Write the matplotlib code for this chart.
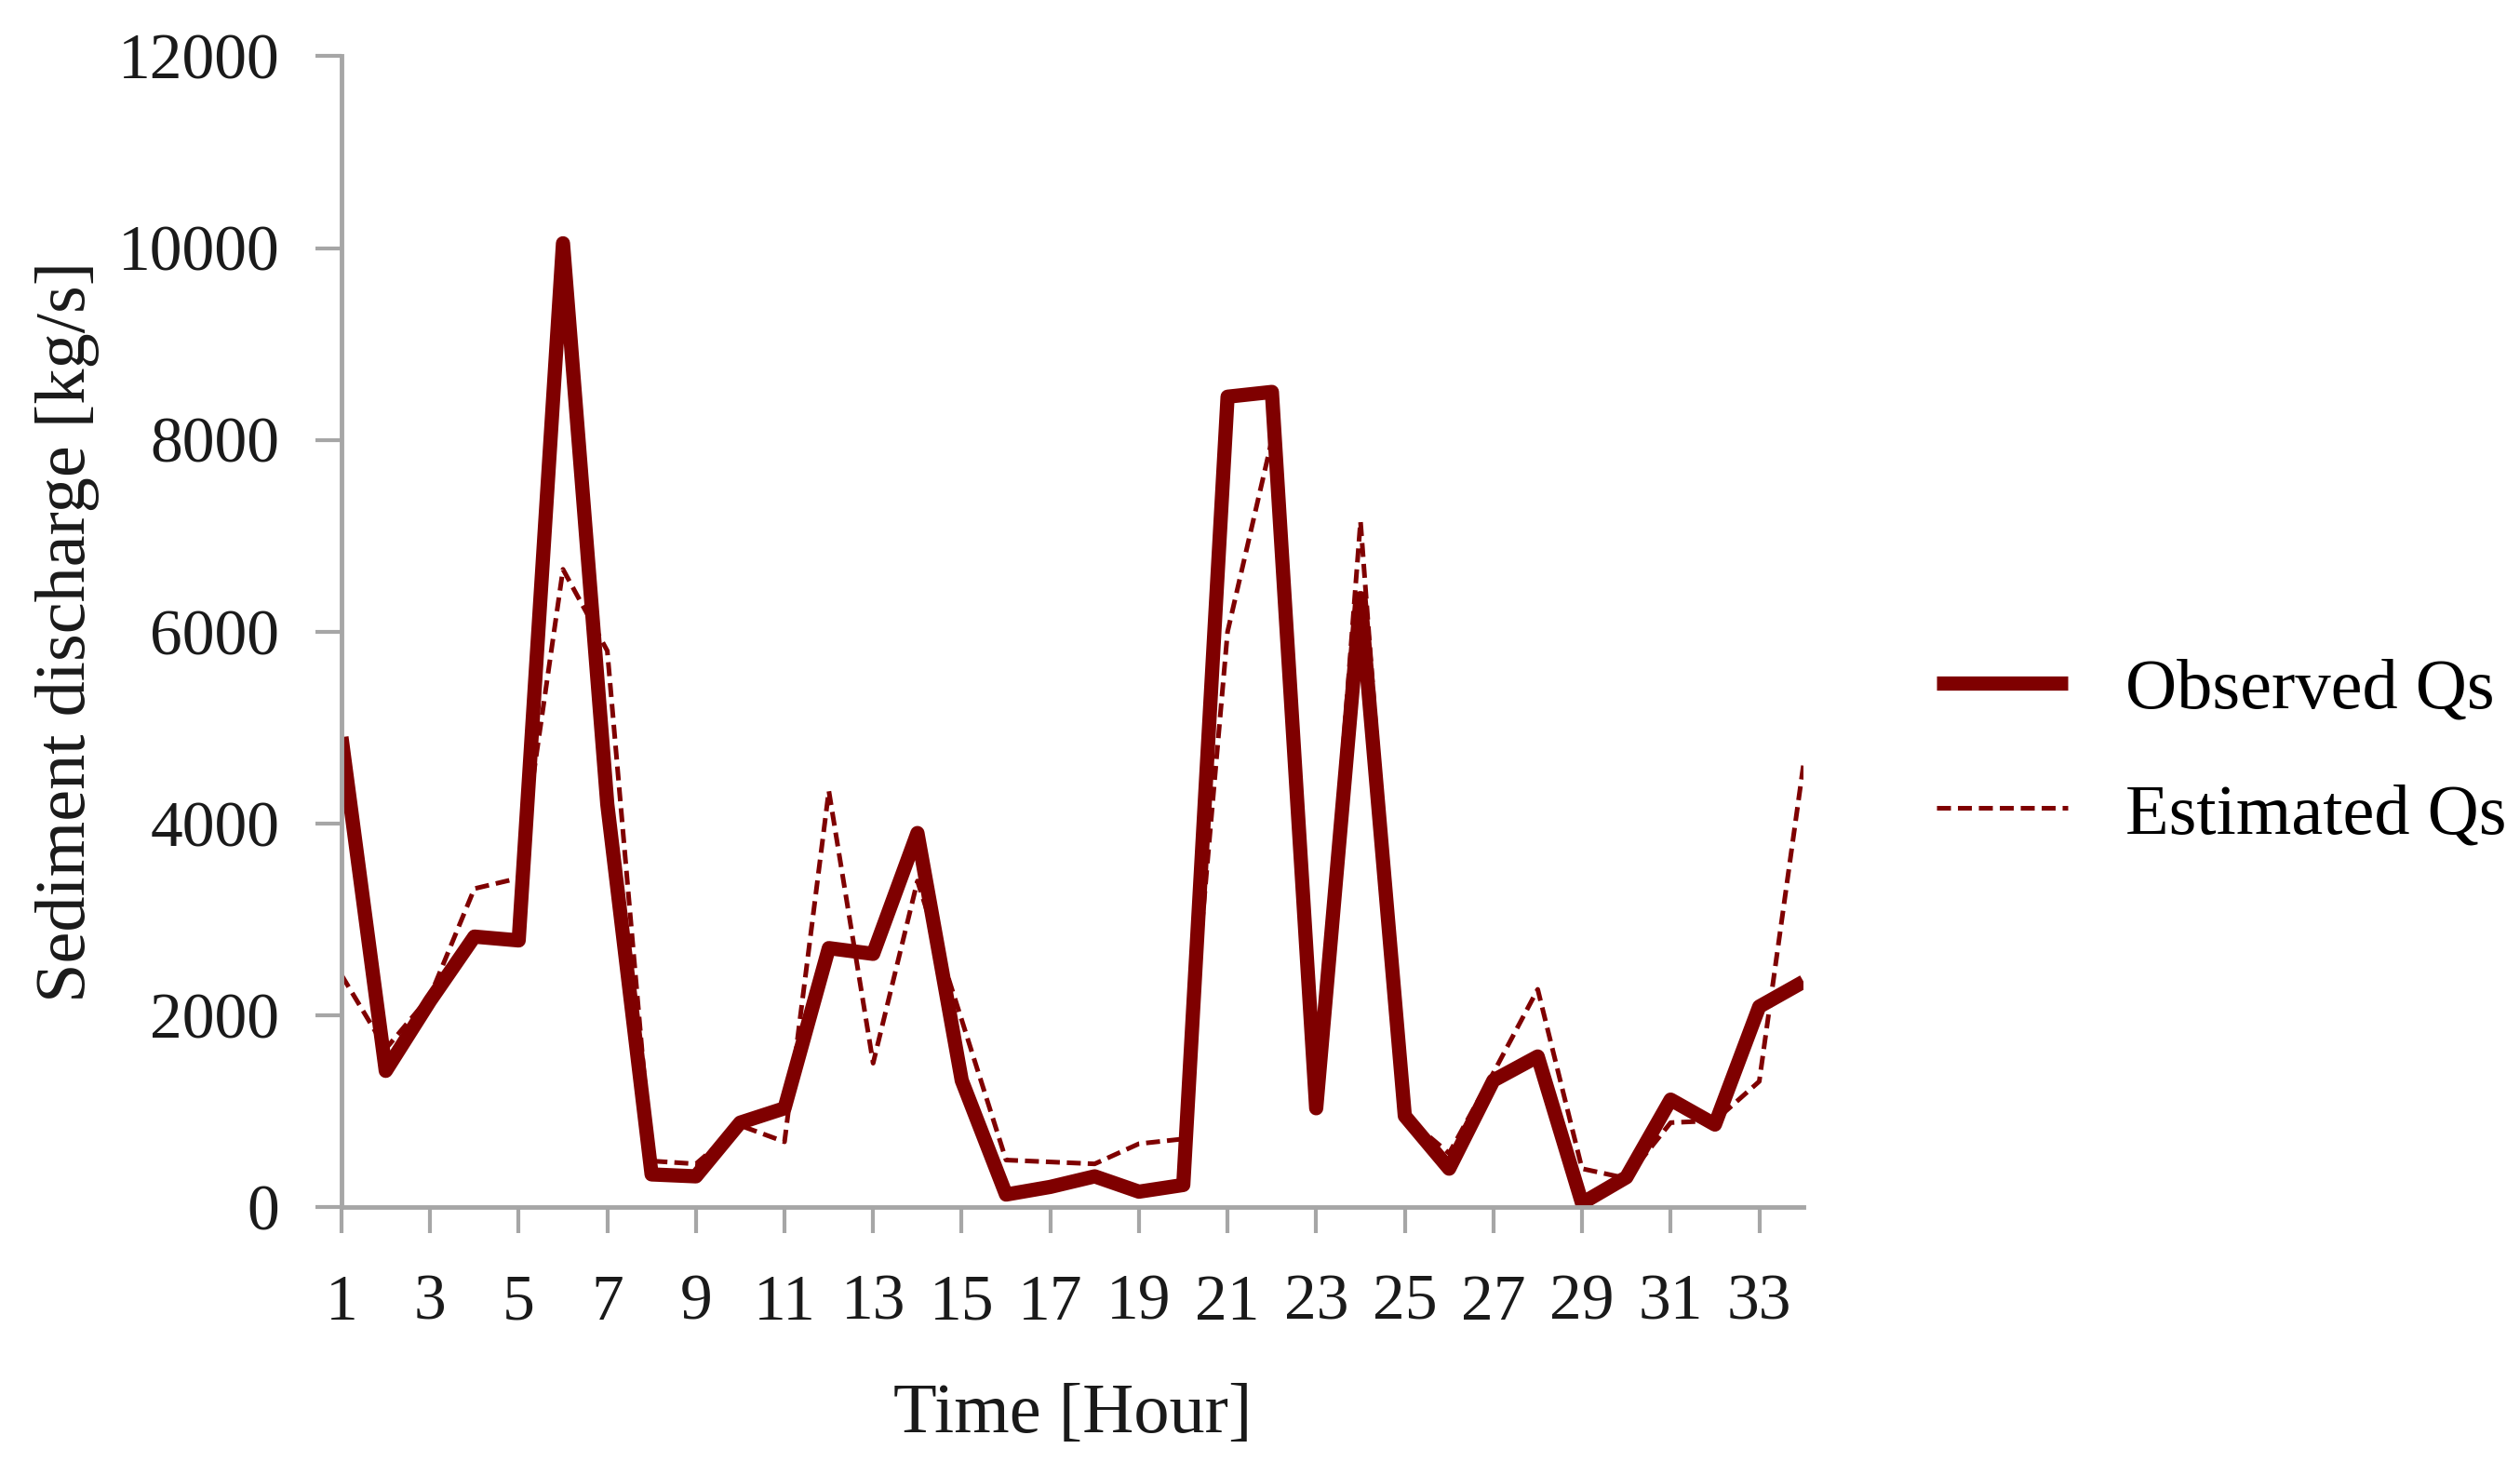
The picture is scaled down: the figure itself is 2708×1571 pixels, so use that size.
import matplotlib
matplotlib.use("Agg")
import matplotlib.pyplot as plt

# hourly sediment discharge
hours = list(range(1, 35))
observed = [4900, 1420, 2150, 2820, 2780, 10050, 4200, 340, 320, 880,
            1030, 2700, 2640, 3900, 1320, 130, 210, 320, 160, 230,
            8450, 8500, 1030, 6350, 950, 400, 1320, 1570, 40, 310,
            1120, 860, 2090, 2350]
estimated = [2420, 1650, 2200, 3320, 3430, 6650, 5800, 480, 450, 850,
             680, 4340, 1500, 3400, 1950, 490, 470, 450, 660, 710,
             6000, 8000, 1100, 7150, 950, 560, 1400, 2270, 400, 300,
             880, 900, 1310, 4620]
xticks = list(range(1, 34, 2))
yticks = [0, 2000, 4000, 6000, 8000, 10000, 12000]

plt.rcParams["font.family"] = ["Liberation Serif", "DejaVu Serif"]
red = "#7f0000"
grey = "#a6a6a6"
txt = "#1a1a1a"

fig = plt.figure(figsize=(27.08, 15.71), dpi=100)
ax = fig.add_axes([0.1355, 0.1744, 0.5802, 0.7871])

ax.plot(hours, observed, color=red, lw=11, solid_joinstyle="round",
        solid_capstyle="butt", label="Observed Qs")
ax.plot(hours, estimated, color=red, lw=3.6, ls=(0, (3, 1.5)), label="Estimated Qs")

ax.set_xlim(1, 34)
ax.set_ylim(0, 12000)
ax.set_xticks(xticks)
ax.set_yticks(yticks)
ax.tick_params(labelsize=50, color=grey, width=3, length=20, labelcolor=txt)
ax.tick_params(axis="y", pad=28)
ax.tick_params(axis="x", pad=32)

for s in ["top", "right"]:
    ax.spines[s].set_visible(False)
for s in ["left", "bottom"]:
    ax.spines[s].set_color(grey)
    ax.spines[s].set_linewidth(3.5)

ax.set_xlabel("Time [Hour]", fontsize=55, labelpad=38, color=txt)
ax.set_ylabel("Sediment discharge [kg/s]", fontsize=55, labelpad=14, color=txt)

fig.legend(loc="center left", bbox_to_anchor=(0.7685, 0.485), frameon=False,
           borderpad=0, borderaxespad=0,
           fontsize=55, handlelength=1.85, handletextpad=0.8, labelspacing=0.85)

fig.savefig("out.png", dpi=100)
